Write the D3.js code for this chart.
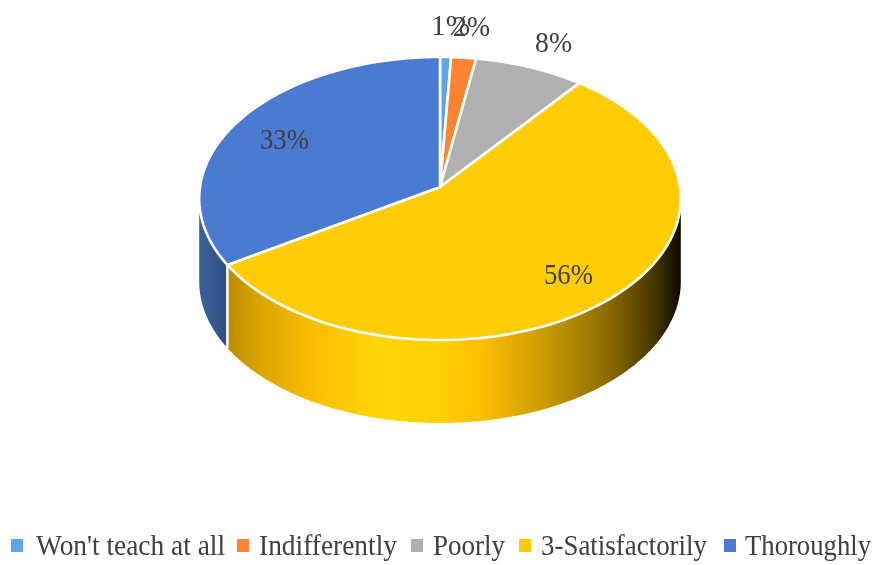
<!DOCTYPE html>
<html><head><meta charset="utf-8">
<script src="https://cdn.jsdelivr.net/npm/d3@7/dist/d3.min.js"></script>
<style>html,body{margin:0;padding:0;background:#fff;overflow:hidden}svg{display:block}
text{font-family:"Liberation Serif",serif;fill:#404040}</style>
</head><body><div id="chart"></div>
<script>
const categories = ["Won't teach at all","Indifferently","Poorly","3-Satisfactorily","Thoroughly"];
const sliceShares = [0.8,1.8,8,55.5,33.9];
const percentLabels = ["1%","2%","8%","56%","33%"];
const topColors = ["#5fa5e6","#fd8432","#b0b0b0","#ffcc05","#4a7bd1"];

const W=877,H=565;
const svg=d3.select("#chart").append("svg").attr("width",W).attr("height",H);
const defs=svg.append("defs");

// perspective disc projection
const cx=440,cy=187,depth=83;
const persp=0.0813,spanX=240,spanY=140.6;
const project=(theta,r=1)=>{
  const X=r*Math.sin(theta),Y=r*Math.cos(theta),d=1+persp*Y;
  return [cx+spanX*X/d, cy-spanY*Y/d];
};
const arcs=d3.pie().sort(null).value(d=>d).startAngle(0).endAngle(2*Math.PI)(sliceShares);
const angleSamples=(a0,a1)=>d3.range(0,121).map(i=>a0+(a1-a0)*i/120);
const rim=(a0,a1)=>angleSamples(a0,a1).map(t=>project(t));
const line=d3.line();

// the front of the rim: from its rightmost point round to its leftmost point
const fullTurn=d3.range(0,2000).map(i=>i*Math.PI/1000);
const frontStart=d3.greatest(fullTurn,t=>project(t)[0]);
const frontEnd=d3.least(fullTurn,t=>project(t)[0]);

// wall shading
const wallGrad=(id,stops)=>{
  const g=defs.append("linearGradient").attr("id",id).attr("gradientUnits","userSpaceOnUse")
    .attr("x1",199).attr("x2",681).attr("y1",0).attr("y2",0);
  stops.forEach(([o,c])=>g.append("stop").attr("offset",o).attr("stop-color",c));
};
wallGrad("wallYellow",[[0.06,"#b98c00"],[0.12,"#d9a400"],[0.25,"#ffc000"],[0.37,"#ffd60a"],[0.5,"#ffd000"],[0.58,"#ffc000"],[0.72,"#c99b00"],[0.85,"#8a6b00"],[0.94,"#4a3a00"],[1,"#0c0900"]]);
wallGrad("wallBlue",[[0,"#3f5f98"],[0.03,"#36588f"],[0.06,"#2f4d82"]]);
const wallFill=["#3f6f9f","#a85520","#707070","url(#wallYellow)","url(#wallBlue)"];

const page=svg.append("g").style("filter","blur(0.45px)");
const pie=page.append("g");
const walls=pie.append("g");
arcs.forEach((a,i)=>{
  const a0=Math.max(a.startAngle,frontStart),a1=Math.min(a.endAngle,frontEnd);
  if(a1<=a0) return;
  const top=rim(a0,a1);
  const bottom=top.map(p=>[p[0],p[1]+depth]).reverse();
  walls.append("path").attr("d",line(top.concat(bottom))+"Z")
    .attr("fill",wallFill[i]);
  // white seam where a slice's cut face meets the front wall
  if(a.startAngle>=frontStart&&a.startAngle<=frontEnd){
    const p=project(a.startAngle);
    walls.append("line").attr("x1",p[0]).attr("x2",p[0]).attr("y1",p[1]).attr("y2",p[1]+depth)
      .attr("stroke","#fff").attr("stroke-width",2.5);
  }
});
pie.append("g").selectAll("path").data(arcs).join("path")
  .attr("d",a=>line([[cx,cy],...rim(a.startAngle,a.endAngle)])+"Z")
  .attr("fill",(a,i)=>topColors[i])
  .attr("stroke","#fff").attr("stroke-width",2.6).attr("stroke-linejoin","round");

// data labels
const labelAnchors=[[431,35],[453,36],[535,52],[544,284],[260,149]];
const labelWidths=[39,37,37,49,49];
page.append("g").selectAll("text").data(percentLabels).join("text")
  .attr("x",(d,i)=>labelAnchors[i][0]).attr("y",(d,i)=>labelAnchors[i][1])
  .attr("font-size",30).attr("textLength",(d,i)=>labelWidths[i])
  .attr("lengthAdjust","spacingAndGlyphs").text(d=>d);

// legend
const keyX=[11,237,411,519,724], textX=[36,259,433,541,745], textW=[189,138,72,166,126];
const legend=page.append("g");
categories.forEach((c,i)=>{
  legend.append("rect").attr("x",keyX[i]).attr("y",539).attr("width",12).attr("height",13).attr("fill",topColors[i]);
  legend.append("text").attr("x",textX[i]).attr("y",555).attr("font-size",30)
    .attr("textLength",textW[i]).attr("lengthAdjust","spacingAndGlyphs").text(c);
});
</script></body></html>
